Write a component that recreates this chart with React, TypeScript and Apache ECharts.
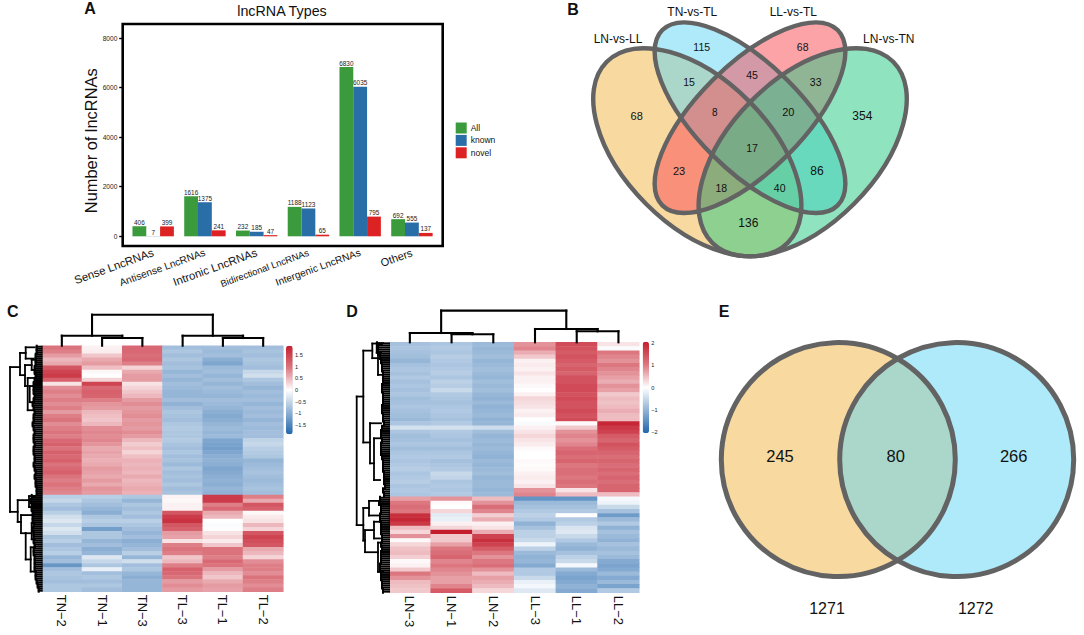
import React, { useEffect, useRef } from "react";
import * as echarts from "echarts";

const FONT = "'Liberation Sans', Arial, sans-serif";

// Panel A
const barCategories = ["Sense LncRNAs", "Antisense LncRNAs", "Intronic LncRNAs", "Bidirectional LncRNAs", "Intergenic LncRNAs", "Others"];
const barAll = [406, 1616, 232, 1188, 6830, 692];
const barKnown = [7, 1375, 185, 1123, 6035, 555];
const barNovel = [399, 241, 47, 65, 795, 137];
const barYTicks = [0, 2000, 4000, 6000, 8000];
const xLabelSizes = [11.4, 10.2, 11.4, 9.4, 10.1, 11];

// Panel B
const vennBLabels = ["LN-vs-LL", "TN-vs-TL", "LL-vs-TL", "LN-vs-TN"];
const vennBCounts = ["115", "68", "15", "45", "33", "68", "8", "20", "354", "17", "23", "86", "18", "40", "136"];

// Panel C
const colsC = ["TN−2", "TN−1", "TN−3", "TL−3", "TL−1", "TL−2"];
const cTN2 = [1.0,0.9,0.7,0.5,0.6,1.3,1.5,1.6,1.2,0.2,
0.8,0.9,0.8,0.9,0.8,0.9,0.7,0.9,1.0,0.8,
0.9,1.0,0.9,1.1,1.2,1.0,1.2,1.1,1.2,1.0,
1.1,1.2,1.0,0.9,1.0,0.9,0.85,
-0.6,-0.5,-0.7,-0.8,-0.6,-0.4,-0.3,-0.5,-0.3,-0.4,-0.7,-0.6,-0.8,
-0.7,-0.6,-0.9,-0.8,-1.3,-0.8,-0.7,-0.75,-0.8,-0.7,-0.7];
const cTN1 = [0.1,0.12,0.4,0.6,0.7,0.45,0.05,0.0,0.3,1.5,
1.1,1.2,1.15,0.9,0.75,0.7,0.5,0.45,0.4,0.5,
0.8,0.85,0.8,0.85,0.75,0.6,0.65,0.6,0.55,0.6,
0.7,0.65,0.6,0.7,0.6,0.75,0.7,
-0.6,-0.7,-0.8,-0.9,-1.0,-0.7,-0.6,-0.7,-1.2,-0.7,-0.7,-0.9,-0.8,
-1.0,-0.9,-0.3,-0.5,-0.7,-0.2,-0.8,-0.7,-0.8,-0.7,-0.8];
const cTN3 = [1.1,1.1,1.05,1.1,0.9,0.3,0.6,0.7,0.7,0.2,
0.3,0.4,0.5,0.7,0.8,0.7,0.75,0.8,0.7,0.75,
0.7,0.8,0.7,0.5,0.35,0.45,0.3,0.45,0.55,0.5,
0.55,0.5,0.6,0.5,0.55,0.6,0.55,
-0.7,-0.9,-0.7,-0.8,-0.7,-0.8,-0.6,-0.7,-0.8,-0.9,-0.8,-1.0,-0.9,
-0.8,-0.6,-0.9,-0.4,-0.8,-0.7,-0.9,-1.0,-0.9,-0.9,-0.9];
const cTL3 = [-0.8,-0.7,-0.8,-0.7,-0.8,-0.75,-0.9,-0.8,-0.9,-0.8,
-0.85,-0.9,-0.9,-0.8,-0.95,-0.8,-0.7,-0.75,-0.8,-0.7,
-0.65,-0.7,-0.7,-0.65,-0.75,-0.8,-0.7,-0.8,-0.75,-0.85,
-0.7,-0.8,-0.75,-0.8,-0.7,-0.8,-0.75,
0.08,0.05,0.1,0.1,1.3,1.6,1.7,1.3,1.2,0.7,0.65,0.2,0.9,
1.0,0.9,0.4,0.5,0.9,1.2,1.1,1.0,0.7,0.8,0.7];
const cTL1 = [-0.8,-0.85,-0.8,-1.0,-1.1,-0.85,-0.8,-0.9,-0.8,-0.9,
-0.8,-0.85,-0.9,-0.8,-0.85,-0.9,-1.0,-1.05,-1.0,-0.9,
-0.85,-0.9,-0.85,-1.1,-1.15,-1.2,-1.1,-1.0,-0.95,-1.0,
-1.1,-1.05,-1.0,-0.95,-1.0,-0.9,-0.95,
1.6,1.6,0.9,1.1,0.6,0.5,0.0,-0.05,-0.02,0.2,0.3,0.15,0.4,
1.0,1.0,0.9,1.1,1.0,0.7,0.5,0.4,0.6,0.7,0.65];
const cTL2 = [-0.8,-0.75,-0.8,-0.7,-0.75,-0.8,-0.5,-0.4,-0.7,-0.8,
-0.9,-0.8,-0.85,-0.8,-0.9,-0.8,-0.85,-0.8,-0.9,-0.8,
-0.85,-0.8,-0.8,-0.55,-0.5,-0.6,-0.65,-0.7,-0.9,-0.85,
-0.8,-0.75,-0.8,-0.85,-0.8,-0.75,-0.8,
0.9,0.6,1.3,1.2,0.05,0.15,0.2,0.5,0.3,1.3,1.5,1.4,1.3,
0.6,0.5,0.3,0.8,0.9,0.9,0.8,1.0,0.9,0.8,0.9];
const colTicksC = ["1.5", "1", "0.5", "0", "−0.5", "−1", "−1.5"];
const leafC = [5,5,6,6,6,7,7,6,7,8,8,8,7,8,9,8,7,8,8,9,8,7,8,8,7,8,8,7,7,8,7,6,7,6,6,5,5,
10,11,10,10,9,9,9,8,9,8,8,8,7,8,8,7,7,7,7,6,6,5,4,3];
const leftBracketsC = [
  [31.7,5.3,41.2,21.7,24],[21.7,1.8,7.3,16,16.7],[16,0.4,3.2,7,8],[16.7,4.8,10,10,14],
  [14,8,16,8,8],[10,3.5,6,6,7],[12,10,14,8,8],[24,38.3,43.7,12.7,20.7],[12.7,37.3,40,7,8],
  [20.7,42,46.5,9,16],[16,46.5,53,10,11],[11,50,56,7,6],[10,44,48,7,7],
];
const topBracketsC = [[7.7,1.5,2.5,0,0],[10,0.5,2,0,7.7],[7.7,4.5,5.5,0,0],[10,3.5,5,0,7.7],[31,1.25,4.25,10,10]];

// Panel D
const colsD = ["LN−3", "LN−1", "LN−2", "LL−3", "LL−1", "LL−2"];
const dLN3 = [-0.8,-0.75,-0.8,-0.85,-0.95,-0.8,-0.75,-0.8,-0.7,-0.8,
-0.75,-0.8,-0.75,-0.85,-0.8,-0.75,-0.8,-0.85,-0.9,-0.75,
-0.4,-0.75,-0.85,-0.8,-0.75,-0.85,-0.75,-0.7,-0.75,-0.7,
-0.65,-0.75,-0.7,-0.65,-0.75,-0.7,-0.75,
0.7,1.0,1.1,1.0,1.8,1.9,1.7,0.5,0.3,0.8,0.05,0.3,0.45,0.5,0.35,0.05,0.1,0.4,1.0,0.8,0.5,0.45,0.4];
const dLN1 = [-0.75,-0.7,-0.75,-0.65,-0.7,-0.75,-0.7,-0.65,-0.75,-0.6,
-0.65,-0.5,-0.7,-0.75,-0.8,-0.75,-0.7,-0.75,-0.8,-0.7,
-0.4,-0.7,-0.75,-0.8,-0.75,-0.85,-0.75,-0.7,-0.8,-0.75,
-0.7,-0.5,-0.55,-0.75,-0.7,-0.75,-0.7,
0.8,0.05,0,0.3,-0.25,-0.2,0.1,0.3,2.0,0.4,0.4,0.7,1.0,1.1,1.2,0.9,1.0,0.9,0.8,0.7,0.7,0.9,1.3];
const dLN2 = [-0.9,-0.95,-0.9,-0.85,-0.95,-0.9,-0.85,-0.9,-0.95,-0.85,
-0.9,-0.85,-0.95,-1.0,-0.9,-1.0,-0.95,-0.9,-1.0,-0.95,
-0.45,-0.85,-0.95,-0.9,-0.95,-0.9,-0.95,-1.0,-0.9,-0.95,
-0.9,-0.85,-0.95,-0.9,-0.9,-0.95,-0.9,
0.5,0.8,1.1,0.9,0.35,0.6,0.1,0.2,0.6,1.6,1.8,1.6,1.3,1.0,0.8,1.0,1.1,0.8,0.5,0.7,0.6,0.5,0.3];
const dLL3 = [0.8,0.9,0.6,0.4,0.1,0.15,0.1,0.2,0.1,0.1,
0.05,0,0.1,0.3,0.25,0.2,0.1,0.15,0,-0.05,
0.1,0.2,0.3,0.2,0.15,0.05,0,0,0.05,0.03,
0.05,0.1,0.15,0.1,0.2,0.8,0.9,
-1.4,-0.9,-0.8,-0.7,-0.6,-0.7,-1.0,-0.8,-0.6,-0.6,-0.5,-0.15,-0.6,-0.9,-1.0,-0.95,-1.1,-0.7,-0.7,-0.5,-0.2,-0.1,-0.3];
const dLL1 = [1.5,1.4,1.3,1.4,1.3,1.2,1.3,1.2,1.4,1.4,
1.5,1.5,1.4,1.5,1.4,1.4,1.5,1.4,1.5,0.05,
0.4,0.8,0.9,0.8,0.9,1.1,1.2,1.1,1.2,1.0,
1.1,1.1,1.0,1.1,1.0,0.2,0.5,
-1.4,-0.9,-0.8,-0.7,0,-0.7,-0.6,-0.35,-0.3,-0.5,-0.7,-0.9,-1.0,-0.8,-0.6,-0.5,-0.1,-0.9,-1.1,-1.2,-1.1,-1.0,-1.1];
const dLL2 = [0.2,-0.05,1.0,0.9,0.8,1.0,0.9,0.8,0.7,0.6,
0.8,0.7,0.4,0.5,0.45,0.5,0.6,0.5,0.5,1.9,
1.7,1.6,1.3,1.2,1.4,1.3,1.2,1.1,1.2,1.1,
1.2,1.1,1.2,1.1,1.2,1.2,0.5,
-0.1,-0.15,-0.5,-0.8,-1.3,-0.9,-0.7,-1.0,-0.8,-0.9,-1.0,-0.8,-0.9,-0.8,-0.9,-1.1,-1.2,-1.1,-0.9,-1.1,-0.9,-1.2,-0.7];
const colTicksD = ["2", "1", "0", "−1", "−2"];
const leafD = [12,11,11,9,8,7,7,6,6,6,7,7,6,6,6,7,7,6,6,5,7,8,8,7,8,8,8,7,6,6,6,5,5,5,4,6,5,
9,10,8,8,9,9,8,8,8,7,7,8,7,8,8,8,9,9,8,8,7,7,6];
const leftBracketsD = [
  [32.3,13,43.8,25.7,25.7],[25.7,2,24,16.7,19],[16.7,0.3,3.8,12.3,11],[12.3,0.2,2.5,6,8],
  [11,0.6,7.8,7,6],[19,19.4,29,8,15],[15,23,33,8,9],[25.7,39.7,47.5,20,24],[20,38,41.5,10,10],
  [24,45,50.3,15,11],[15,43,47,8,9],[11,48,55,8,6],
];
const topBracketsD = [[8,1.5,2.5,0,0],[9.3,0.5,2,0,8],[11,4.5,5.5,0,0],[13.3,3.5,5,0,11],[31.7,1.25,4.25,9.3,13.3]];

// Panel E
const vennECounts = ["245", "80", "266"];
const vennETotals = ["1271", "1272"];

const ORANGE = "rgba(241,179,65,0.5)";
const BLUE = "rgba(94,213,246,0.5)";
const RED = "rgba(249,71,81,0.5)";
const GREEN = "rgba(33,199,127,0.5)";
const STROKE = "#636363";
const HEAT = ["#2166ac", "#90b2d5", "#ffffff", "#dc7780", "#c41e2e"];

const heatData = (cols: number[][]) => cols.flatMap((col, x) => col.map((v, y) => [x, y, v]));
const topLinks = (list: number[][]) =>
  list.flatMap(([h, a, b, ha, hb]) => [[a, h, b, h], [a, h, a, ha], [b, h, b, hb]]);
const leftLinks = (list: number[][]) =>
  list.flatMap(([d, a, b, da, db]) => [[d, a, d, b], [d, a, da, a], [d, b, db, b]]);
const leafLinks = (leaf: number[]) =>
  leaf.flatMap((d, i) => [[d, i + 0.25, 0, i + 0.25], [d, i + 0.75, 0, i + 0.75], [d, i, d, i + 1]]);

const linkSeries = (data: number[][], axis: number, lineWidth: number) => ({
  type: "custom",
  xAxisIndex: axis,
  yAxisIndex: axis,
  silent: true,
  clip: false,
  data,
  renderItem: (_p: any, api: any) => {
    const a = api.coord([api.value(0), api.value(1)]);
    const b = api.coord([api.value(2), api.value(3)]);
    return {
      type: "line",
      shape: { x1: a[0], y1: a[1], x2: b[0], y2: b[1] },
      style: { stroke: "#000", lineWidth, lineCap: "square" },
    };
  },
});

const text = (t: string, x: number, y: number, fontSize: number, extra: any = {}, rotation = 0) => ({
  type: "text",
  x,
  y,
  rotation,
  silent: true,
  style: { text: t, fontSize, fontFamily: FONT, fill: "#111", align: "center", verticalAlign: "middle", ...extra },
});

const ellipse = (cx: number, cy: number, rx: number, ry: number, rotation: number, style: any) => ({
  type: "ellipse",
  x: cx,
  y: cy,
  rotation,
  silent: true,
  shape: { cx: 0, cy: 0, rx, ry },
  style,
});

const vennBEllipses: [number, number, number, number, number, string][] = [
  [697.3, 152.3, 128, 72.7, -Math.PI / 4, ORANGE],
  [750, 117.7, 124, 53, -Math.PI / 4, BLUE],
  [750, 117.7, 124, 53, Math.PI / 4, RED],
  [802.7, 152.3, 128, 72.7, Math.PI / 4, GREEN],
];
const vennBLabelPos = [[618, 39], [692.3, 12], [793.3, 12], [888.7, 39]];
const vennBCountPos = [
  [701.7, 47.3, 10.5], [802.7, 47.3, 10.5], [689, 81.7, 10.5], [752, 74.7, 10.5], [815.7, 81.7, 10.5],
  [636.7, 115.7, 11], [714.7, 112, 10], [788.3, 112, 11], [862.3, 115.7, 12], [752, 148.3, 10.5],
  [679, 171.3, 11], [817, 170.7, 12], [721.3, 188, 10.5], [779.7, 188, 10.5], [748.3, 223.3, 12],
];

const axisOff = { show: false };

const option: any = {
  animation: false,
  backgroundColor: "#fff",
  textStyle: { fontFamily: FONT },
  title: {
    text: "lncRNA Types",
    left: 282,
    top: 4,
    textAlign: "center",
    padding: 0,
    textStyle: { fontSize: 14.3, fontWeight: "normal", color: "#111", fontFamily: FONT },
  },
  legend: {
    data: ["All", "known", "novel"],
    orient: "vertical",
    left: 455.7,
    top: 122.5,
    padding: 0,
    itemWidth: 11,
    itemHeight: 11,
    itemGap: 1.4,
    icon: "rect",
    selectedMode: false,
    textStyle: { fontSize: 8.5, color: "#111", fontFamily: FONT, padding: [0, 0, 0, -1] },
  },
  grid: [
    { left: 127.3, top: 24, width: 310.5, height: 222 },
    { left: 41.7, top: 345.7, width: 241.6, height: 246 },
    { left: 389, top: 342.3, width: 250.3, height: 250.4 },
    { left: 41.7, top: 313.7, width: 241.6, height: 32 },
    { left: 9.7, top: 345.7, width: 32, height: 246 },
    { left: 389, top: 309.3, width: 250.3, height: 33 },
    { left: 356, top: 342.3, width: 33, height: 250.4 },
    { left: 286, top: 345.7, width: 6.7, height: 88.6 },
    { left: 642.7, top: 343, width: 6.3, height: 89.2 },
  ],
  xAxis: [
    {
      gridIndex: 0,
      type: "category",
      data: barCategories,
      axisLine: { show: false, onZero: false },
      axisTick: { alignWithLabel: true, length: 3.5, lineStyle: { color: "#000", width: 1.4 } },
      axisLabel: {
        rotate: 20,
        margin: 6,
        interval: 0,
        color: "#111",
        fontFamily: FONT,
        formatter: (v: string, i: number) => `{s${i}|${v}}`,
        rich: Object.fromEntries(xLabelSizes.map((s, i) => [`s${i}`, { fontSize: s, fontFamily: FONT, color: "#111" }])),
      },
    },
    ...[colsC, colsD].map((data, i) => ({
      gridIndex: i + 1,
      type: "category",
      data,
      axisLine: { show: false },
      axisTick: { show: false },
      splitLine: { show: false },
      axisLabel: { rotate: -90, margin: 3, interval: 0, fontSize: 13, color: "#111", fontFamily: FONT },
    })),
    { gridIndex: 3, type: "value", min: 0, max: 6, ...axisOff },
    { gridIndex: 4, type: "value", min: 0, max: 32, inverse: true, ...axisOff },
    { gridIndex: 5, type: "value", min: 0, max: 6, ...axisOff },
    { gridIndex: 6, type: "value", min: 0, max: 33, inverse: true, ...axisOff },
    { gridIndex: 7, type: "value", min: 0, max: 1, ...axisOff },
    { gridIndex: 8, type: "value", min: 0, max: 1, ...axisOff },
  ],
  yAxis: [
    {
      gridIndex: 0,
      type: "value",
      min: -391,
      max: 8565,
      offset: 4.6,
      splitLine: { show: false },
      axisLine: { show: false },
      axisTick: { show: true, length: 3.5, customValues: barYTicks, lineStyle: { color: "#000", width: 1.4 } },
      axisLabel: {
        customValues: barYTicks,
        formatter: (v: number) => String(v),
        fontSize: 6.6,
        margin: 5.4,
        color: "#222",
        fontFamily: FONT,
      },
    },
    { gridIndex: 1, type: "category", inverse: true, data: cTN2.map((_, i) => i), ...axisOff },
    { gridIndex: 2, type: "category", inverse: true, data: dLN3.map((_, i) => i), ...axisOff },
    { gridIndex: 3, type: "value", min: 0, max: 32, ...axisOff },
    { gridIndex: 4, type: "value", min: 0, max: 61, inverse: true, ...axisOff },
    { gridIndex: 5, type: "value", min: 0, max: 33, ...axisOff },
    { gridIndex: 6, type: "value", min: 0, max: 60, inverse: true, ...axisOff },
    {
      gridIndex: 7,
      type: "value",
      position: "right",
      min: -1.91,
      max: 1.91,
      splitLine: { show: false },
      axisLine: { show: false },
      axisTick: { show: false },
      axisLabel: {
        customValues: [1.5, 1, 0.5, 0, -0.5, -1, -1.5],
        formatter: (v: number) => colTicksC[[1.5, 1, 0.5, 0, -0.5, -1, -1.5].indexOf(v)],
        fontSize: 5.6,
        margin: 2.3,
        color: "#222",
        fontFamily: FONT,
      },
    },
    {
      gridIndex: 8,
      type: "value",
      position: "right",
      min: -2,
      max: 2,
      splitLine: { show: false },
      axisLine: { show: false },
      axisTick: { show: false },
      axisLabel: {
        customValues: [2, 1, 0, -1, -2],
        formatter: (v: number) => colTicksD[[2, 1, 0, -1, -2].indexOf(v)],
        fontSize: 5.6,
        margin: 2.3,
        color: "#222",
        fontFamily: FONT,
      },
    },
  ],
  visualMap: [
    {
      type: "continuous",
      seriesIndex: 3,
      min: -1.91,
      max: 1.91,
      inRange: { color: HEAT },
      calculable: false,
      left: 286,
      top: 345.7,
      padding: 0,
      itemWidth: 6.7,
      itemHeight: 88.6,
      text: null,
    },
    {
      type: "continuous",
      seriesIndex: 4,
      min: -2,
      max: 2,
      inRange: { color: HEAT },
      calculable: false,
      left: 642.7,
      top: 341.7,
      padding: 0,
      itemWidth: 6.3,
      itemHeight: 91.6,
      text: null,
    },
  ],
  series: [
    ...(
      [
        ["All", barAll, "#3a9a3c"],
        ["known", barKnown, "#2a6ea8"],
        ["novel", barNovel, "#dc2222"],
      ] as [string, number[], string][]
    ).map(([name, data, color]) => ({
      type: "bar",
      name,
      data,
      barWidth: 13.8,
      barGap: "0%",
      xAxisIndex: 0,
      yAxisIndex: 0,
      itemStyle: { color },
      label: { show: true, position: "top", distance: 1, fontSize: 6.4, color: "#222", fontFamily: FONT },
    })),
    {
      type: "heatmap",
      xAxisIndex: 1,
      yAxisIndex: 1,
      data: heatData([cTN2, cTN1, cTN3, cTL3, cTL1, cTL2]),
      progressive: 0,
      silent: true,
    },
    {
      type: "heatmap",
      xAxisIndex: 2,
      yAxisIndex: 2,
      data: heatData([dLN3, dLN1, dLN2, dLL3, dLL1, dLL2]),
      progressive: 0,
      silent: true,
    },
    linkSeries(topLinks(topBracketsC), 3, 2.1),
    linkSeries(leftLinks(leftBracketsC), 4, 1.8),
    linkSeries(leafLinks(leafC), 4, 2),
    linkSeries(topLinks(topBracketsD), 5, 2.1),
    linkSeries(leftLinks(leftBracketsD), 6, 1.8),
    linkSeries(leafLinks(leafD), 6, 2),
  ],
  graphic: [
    {
      type: "rect",
      silent: true,
      shape: { x: 122.7, y: 24, width: 320, height: 222 },
      style: { fill: "none", stroke: "#000", lineWidth: 2.6 },
    },
    text("Number of lncRNAs", 90.5, 140.8, 16.4, {}, Math.PI / 2),
    text("A", 90, 8, 16, { fontWeight: "bold" }),
    text("B", 573, 9, 16, { fontWeight: "bold" }),
    text("C", 12.7, 311, 16, { fontWeight: "bold" }),
    text("D", 352, 311, 16, { fontWeight: "bold" }),
    text("E", 724, 311, 16, { fontWeight: "bold" }),
    // Venn B
    ...vennBEllipses.map(([cx, cy, rx, ry, r, fill]) => ellipse(cx, cy, rx, ry, r, { fill, stroke: "none" })),
    ...vennBEllipses.map(([cx, cy, rx, ry, r]) => ellipse(cx, cy, rx, ry, r, { fill: "none", stroke: STROKE, lineWidth: 4.4 })),
    ...vennBLabels.map((t, i) => text(t, vennBLabelPos[i][0], vennBLabelPos[i][1], 12)),
    ...vennBCounts.map((t, i) => text(t, vennBCountPos[i][0], vennBCountPos[i][1], vennBCountPos[i][2])),
    // Venn E
    { type: "circle", silent: true, shape: { cx: 838.3, cy: 459.6, r: 117 }, style: { fill: ORANGE, stroke: "none" } },
    { type: "circle", silent: true, shape: { cx: 956.7, cy: 459.6, r: 117 }, style: { fill: BLUE, stroke: "none" } },
    { type: "circle", silent: true, shape: { cx: 838.3, cy: 459.6, r: 117 }, style: { fill: "none", stroke: STROKE, lineWidth: 5 } },
    { type: "circle", silent: true, shape: { cx: 956.7, cy: 459.6, r: 117 }, style: { fill: "none", stroke: STROKE, lineWidth: 5 } },
    text(vennECounts[0], 780, 455.7, 16.5),
    text(vennECounts[1], 895.7, 455.7, 16.5),
    text(vennECounts[2], 1013.7, 455.7, 16.5),
    text(vennETotals[0], 827, 608.3, 16),
    text(vennETotals[1], 975.7, 608.3, 16),
  ],
};

export default function App() {
  const ref = useRef<HTMLDivElement>(null);
  useEffect(() => {
    document.body.style.margin = "0";
    const chart = echarts.init(ref.current!, null, { renderer: "svg" });
    chart.setOption(option);
    return () => chart.dispose();
  }, []);
  return <div ref={ref} style={{ position: "absolute", left: 0, top: 0, width: 1084, height: 635 }} />;
}
